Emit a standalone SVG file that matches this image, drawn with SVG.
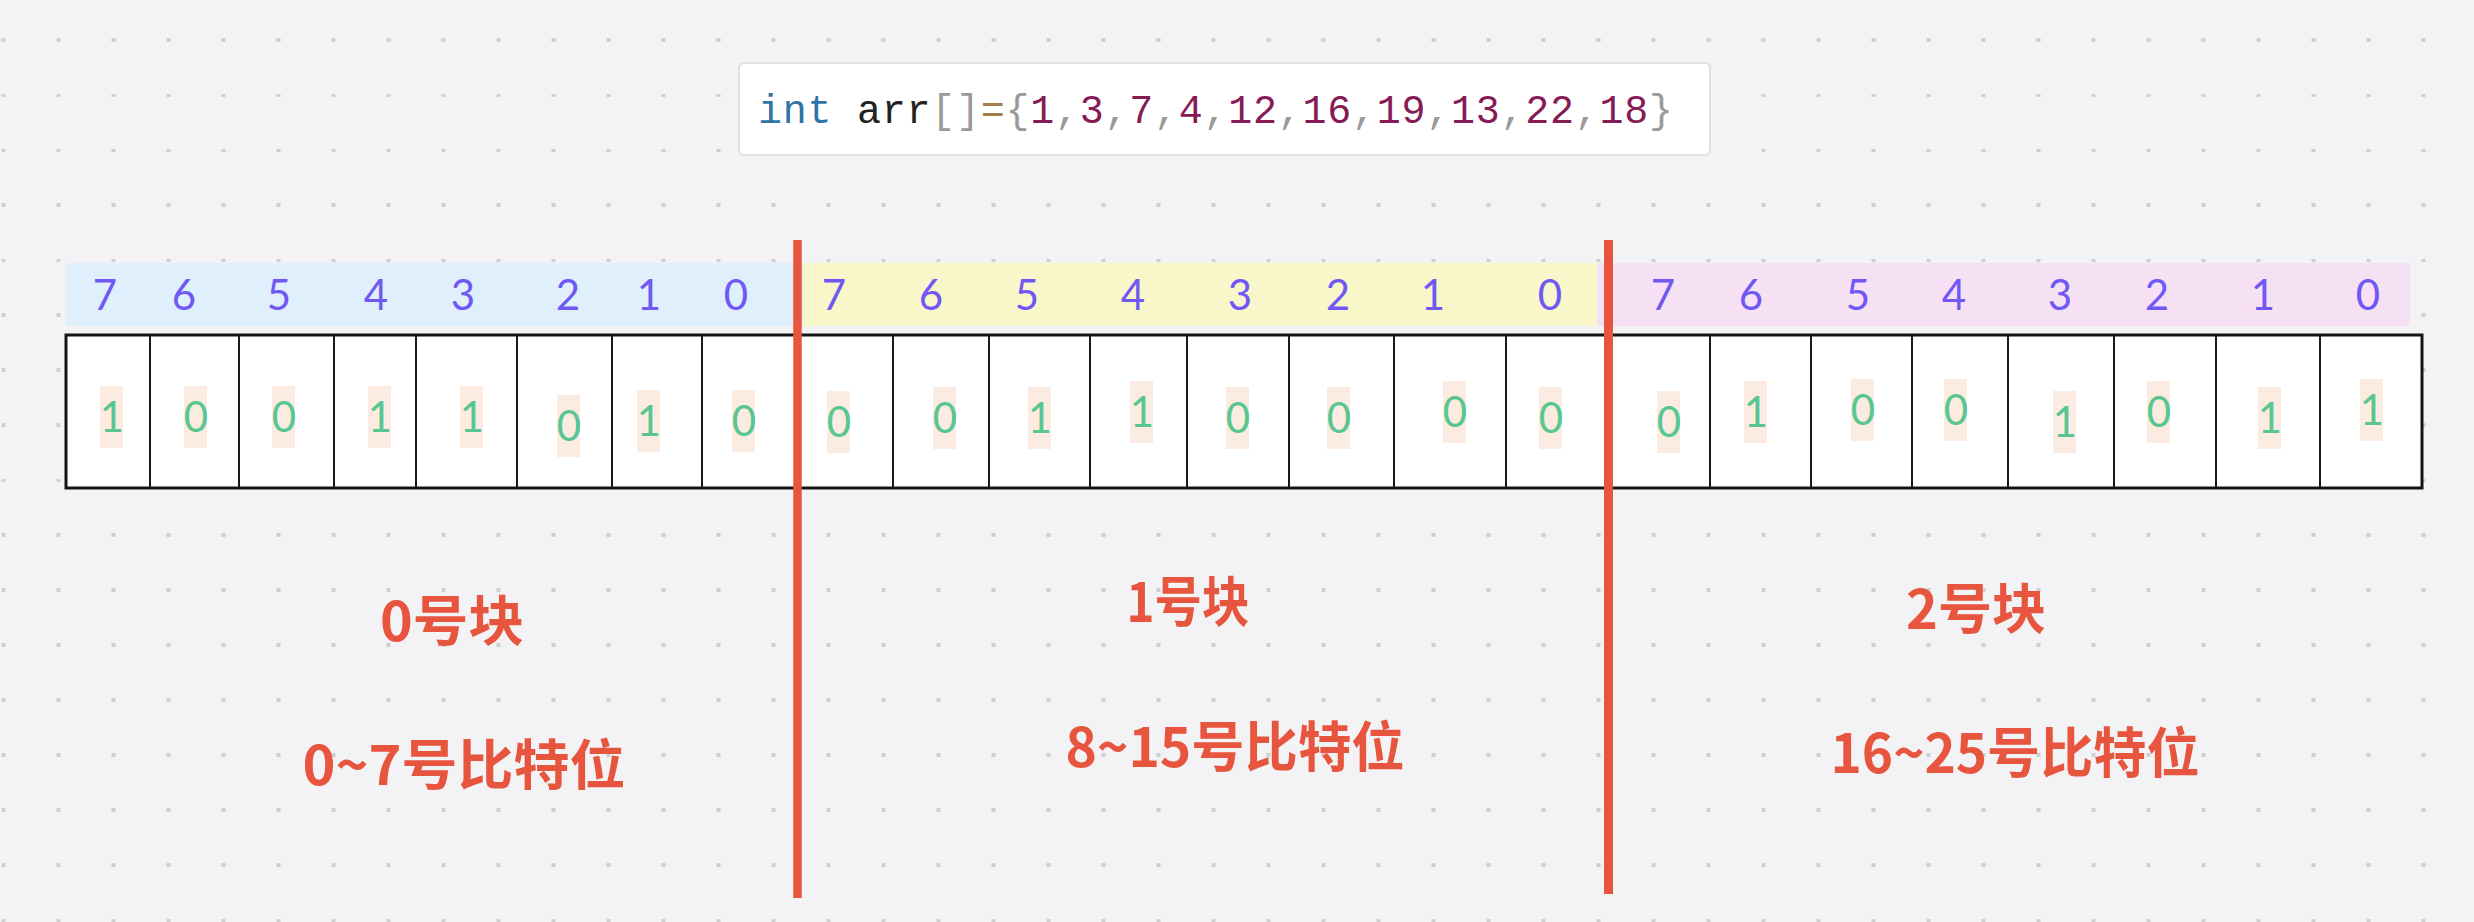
<svg xmlns="http://www.w3.org/2000/svg" width="2474" height="922" viewBox="0 0 2474 922">
  <defs>
    <pattern id="dots" patternUnits="userSpaceOnUse" x="1.5" y="38" width="55" height="55">
      <rect x="0" y="0" width="4" height="4" fill="#cfcfd2"/>
    </pattern>
    <style>
      .hdr { font-family: Lato, "Noto Sans", sans-serif; font-size: 42px; fill: #7158f4; text-anchor: middle; }
      .bit { font-family: Lato, "Noto Sans", sans-serif; font-size: 42px; fill: #58c690; text-anchor: middle; }
      .bitbg { fill: #fcebe0; }
      .cell { fill: #ffffff; }
      .div { stroke: #1a1a1a; stroke-width: 2; }
      .lbl { font-family: "Noto Sans CJK SC", sans-serif; font-weight: 700; font-size: 54px; fill: #e8553f; text-anchor: middle; dominant-baseline: central; }
      .code { font-family: "Liberation Mono", "DejaVu Sans Mono", monospace; font-size: 40px; }
      .kw { fill: #2f74a8; }
      .id { fill: #222222; }
      .pn { fill: #9a9a9a; }
      .op { fill: #a07f4c; }
      .num { fill: #861a55; }
      .red { stroke: #e8553f; }
    </style>
  </defs>

  <rect x="0" y="0" width="2474" height="922" fill="#f3f3f5"/>
  <rect x="0" y="0" width="2474" height="922" fill="url(#dots)"/>

  <g id="code">
    <rect x="739" y="63" width="971" height="92" rx="5" fill="#ffffff" stroke="#e0e0e2" stroke-width="2"/>
    <text class="code" x="758" y="123" textLength="915" lengthAdjust="spacing"><tspan class="kw">int</tspan><tspan class="id"> arr</tspan><tspan class="pn">[]</tspan><tspan class="op">=</tspan><tspan class="pn">{</tspan><tspan class="num">1</tspan><tspan class="pn">,</tspan><tspan class="num">3</tspan><tspan class="pn">,</tspan><tspan class="num">7</tspan><tspan class="pn">,</tspan><tspan class="num">4</tspan><tspan class="pn">,</tspan><tspan class="num">12</tspan><tspan class="pn">,</tspan><tspan class="num">16</tspan><tspan class="pn">,</tspan><tspan class="num">19</tspan><tspan class="pn">,</tspan><tspan class="num">13</tspan><tspan class="pn">,</tspan><tspan class="num">22</tspan><tspan class="pn">,</tspan><tspan class="num">18</tspan><tspan class="pn">}</tspan></text>
  </g>

  <g id="header-block0">
    <rect x="66" y="263" width="737" height="63" fill="#dff0fc"/>
    <text class="hdr" y="310"><tspan x="105">7</tspan><tspan x="184">6</tspan><tspan x="279">5</tspan><tspan x="376">4</tspan><tspan x="463">3</tspan><tspan x="568">2</tspan><tspan x="649">1</tspan><tspan x="736">0</tspan></text>
  </g>
  <g id="header-block1">
    <rect x="803" y="263" width="794" height="63" fill="#f9f7c9"/>
    <text class="hdr" y="310"><tspan x="834">7</tspan><tspan x="931">6</tspan><tspan x="1027">5</tspan><tspan x="1133">4</tspan><tspan x="1240">3</tspan><tspan x="1338">2</tspan><tspan x="1433">1</tspan><tspan x="1550">0</tspan></text>
  </g>
  <g id="header-block2">
    <rect x="1597" y="263" width="813" height="63" fill="#f5e0f4"/>
    <text class="hdr" y="310"><tspan x="1663">7</tspan><tspan x="1751">6</tspan><tspan x="1858">5</tspan><tspan x="1954">4</tspan><tspan x="2060">3</tspan><tspan x="2157">2</tspan><tspan x="2263">1</tspan><tspan x="2368">0</tspan></text>
  </g>

  <g id="table">
    <rect x="66" y="335" width="2356" height="153" fill="#ffffff" stroke="#141414" stroke-width="3"/>
    <g class="div">
      <line x1="150" y1="336" x2="150" y2="487"/>
      <line x1="239" y1="336" x2="239" y2="487"/>
      <line x1="334" y1="336" x2="334" y2="487"/>
      <line x1="416" y1="336" x2="416" y2="487"/>
      <line x1="517" y1="336" x2="517" y2="487"/>
      <line x1="612" y1="336" x2="612" y2="487"/>
      <line x1="702" y1="336" x2="702" y2="487"/>
      <line x1="797" y1="336" x2="797" y2="487"/>
      <line x1="893" y1="336" x2="893" y2="487"/>
      <line x1="989" y1="336" x2="989" y2="487"/>
      <line x1="1090" y1="336" x2="1090" y2="487"/>
      <line x1="1187" y1="336" x2="1187" y2="487"/>
      <line x1="1289" y1="336" x2="1289" y2="487"/>
      <line x1="1394" y1="336" x2="1394" y2="487"/>
      <line x1="1506" y1="336" x2="1506" y2="487"/>
      <line x1="1608" y1="336" x2="1608" y2="487"/>
      <line x1="1710" y1="336" x2="1710" y2="487"/>
      <line x1="1811" y1="336" x2="1811" y2="487"/>
      <line x1="1912" y1="336" x2="1912" y2="487"/>
      <line x1="2008" y1="336" x2="2008" y2="487"/>
      <line x1="2114" y1="336" x2="2114" y2="487"/>
      <line x1="2216" y1="336" x2="2216" y2="487"/>
      <line x1="2320" y1="336" x2="2320" y2="487"/>
    </g>
  </g>

  <g id="bits-block0">
    <rect class="bitbg" x="100" y="386" width="23" height="62"/><text class="bit" x="112" y="432">1</text>
    <rect class="bitbg" x="184" y="386" width="23" height="62"/><text class="bit" x="196" y="432">0</text>
    <rect class="bitbg" x="272" y="386" width="23" height="62"/><text class="bit" x="284" y="432">0</text>
    <rect class="bitbg" x="368" y="386" width="23" height="62"/><text class="bit" x="380" y="432">1</text>
    <rect class="bitbg" x="460" y="386" width="23" height="62"/><text class="bit" x="472" y="432">1</text>
    <rect class="bitbg" x="557" y="395" width="23" height="62"/><text class="bit" x="569" y="441">0</text>
    <rect class="bitbg" x="637" y="390" width="23" height="62"/><text class="bit" x="649" y="436">1</text>
    <rect class="bitbg" x="732" y="390" width="23" height="62"/><text class="bit" x="744" y="436">0</text>
  </g>
  <g id="bits-block1">
    <rect class="bitbg" x="827" y="391" width="23" height="62"/><text class="bit" x="839" y="437">0</text>
    <rect class="bitbg" x="933" y="387" width="23" height="62"/><text class="bit" x="945" y="433">0</text>
    <rect class="bitbg" x="1028" y="387" width="23" height="62"/><text class="bit" x="1040" y="433">1</text>
    <rect class="bitbg" x="1130" y="381" width="23" height="62"/><text class="bit" x="1142" y="427">1</text>
    <rect class="bitbg" x="1226" y="387" width="23" height="62"/><text class="bit" x="1238" y="433">0</text>
    <rect class="bitbg" x="1327" y="387" width="23" height="62"/><text class="bit" x="1339" y="433">0</text>
    <rect class="bitbg" x="1443" y="381" width="23" height="62"/><text class="bit" x="1455" y="427">0</text>
    <rect class="bitbg" x="1539" y="387" width="23" height="62"/><text class="bit" x="1551" y="433">0</text>
  </g>
  <g id="bits-block2">
    <rect class="bitbg" x="1657" y="391" width="23" height="62"/><text class="bit" x="1669" y="437">0</text>
    <rect class="bitbg" x="1744" y="381" width="23" height="62"/><text class="bit" x="1756" y="427">1</text>
    <rect class="bitbg" x="1851" y="379" width="23" height="62"/><text class="bit" x="1863" y="425">0</text>
    <rect class="bitbg" x="1944" y="379" width="23" height="62"/><text class="bit" x="1956" y="425">0</text>
    <rect class="bitbg" x="2053" y="391" width="23" height="62"/><text class="bit" x="2065" y="437">1</text>
    <rect class="bitbg" x="2147" y="381" width="23" height="62"/><text class="bit" x="2159" y="427">0</text>
    <rect class="bitbg" x="2258" y="387" width="23" height="62"/><text class="bit" x="2270" y="433">1</text>
    <rect class="bitbg" x="2360" y="379" width="23" height="62"/><text class="bit" x="2372" y="425">1</text>
  </g>

  <g id="block-dividers">
    <line class="red" x1="797.5" y1="240" x2="797.5" y2="898" stroke-width="8.5"/>
    <line class="red" x1="1608.5" y1="240" x2="1608.5" y2="894" stroke-width="9"/>
  </g>

  <g id="label-block0">
    <text class="lbl" x="452" y="617" textLength="144" lengthAdjust="spacingAndGlyphs">0号块</text>
    <text class="lbl" x="464" y="761" textLength="323" lengthAdjust="spacingAndGlyphs">0~7号比特位</text>
  </g>
  <g id="label-block1">
    <text class="lbl" x="1188" y="598" textLength="123" lengthAdjust="spacingAndGlyphs">1号块</text>
    <text class="lbl" x="1235" y="743" textLength="339" lengthAdjust="spacingAndGlyphs">8~15号比特位</text>
  </g>
  <g id="label-block2">
    <text class="lbl" x="1976" y="605" textLength="140" lengthAdjust="spacingAndGlyphs">2号块</text>
    <text class="lbl" x="2015" y="749" textLength="369" lengthAdjust="spacingAndGlyphs">16~25号比特位</text>
  </g>
</svg>
